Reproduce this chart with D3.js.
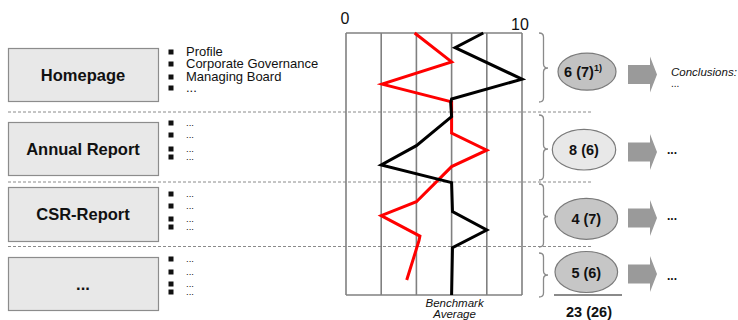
<!DOCTYPE html>
<html>
<head>
<meta charset="utf-8">
<script src="https://cdn.jsdelivr.net/npm/d3@7"></script>
<style>
  html, body { margin: 0; padding: 0; background: #fff; }
  svg { display: block; font-family: "Liberation Sans", Arial, sans-serif; }
</style>
</head>
<body>
<svg id="chart" width="738" height="320"></svg>
<script>
// ---- data ----
const categories = ["Homepage", "Annual Report", "CSR-Report", "..."];
const subItems = [
  ["Profile", "Corporate Governance", "Managing Board", "..."],
  ["...", "...", "...", "..."],
  ["...", "...", "...", "..."],
  ["...", "...", "...", "..."]
];
const scoreLabels = ["6 (7)", "8 (6)", "4 (7)", "5 (6)"];
const scoreNotes = ["1)", "", "", ""];
const conclusions = [["Conclusions:", "..."], ["..."], ["..."], ["..."]];
const totalLabel = "23 (26)";
const xTickLabels = [0, 10];
const benchmarkLabel = ["Benchmark", "Average"];

// position down the criteria list (0 = top, 100 = bottom) and score 0..10
const benchmarkPos   = [0, 5.6, 17.6, 25.2, 26.7, 31.9, 43.0, 50.4, 57.1, 68.2, 75.2, 81.9, 100];
const benchmarkScore = [7.8, 6.2, 10, 6, 5.95, 6, 4, 2, 6, 6.05, 8, 6.05, 6];
const companyPos     = [0, 11, 19.5, 26.3, 38.2, 44.7, 51, 64.4, 69.7, 77.5, 79.2, 94.3];
const companyScore   = [3.9, 6, 2.05, 6, 6, 8, 6, 4, 2, 4.2, 4.15, 3.45];

// ---- layout ----
const svg = d3.select("#chart");
const font = '"Liberation Sans", Arial, sans-serif';
const x = d3.scaleLinear().domain([0, 10]).range([346, 522]);
const y = d3.scaleLinear().domain([0, 100]).range([33, 295]);

const rows = [
  { boxY: 48,  boxH: 53, bullets: [52, 64, 77, 88],     brace: [33, 102, 68],   oval: [587, 71.7, 29, 18.5],   arrow: 74.5 },
  { boxY: 122, boxH: 53, bullets: [123, 135, 149, 157], brace: [115, 180, 149], oval: [584, 149.7, 31.7, 20.3], arrow: 152 },
  { boxY: 187, boxH: 54, bullets: [194, 206, 219, 227], brace: [184, 247, 216.5], oval: [586.3, 218.8, 31.3, 20.5], arrow: 218 },
  { boxY: 257, boxH: 53, bullets: [259, 272, 284, 292], brace: [253, 297, 275], oval: [586.3, 272, 31.3, 20.5], arrow: 274 }
];
const ovalFills = ["#c2c2c2", "#e8e8e8", "#c6c6c6", "#c6c6c6"];
const separators = [112, 182, 246.5];

// dashed separators between sections
svg.append("g").selectAll("line").data(separators).join("line")
  .attr("x1", 8).attr("x2", 593).attr("y1", d => d).attr("y2", d => d)
  .attr("stroke", "#8a8a8a").attr("stroke-width", 1).attr("stroke-dasharray", "3,2");

// category boxes
const boxes = svg.append("g");
categories.forEach((c, i) => {
  const r = rows[i];
  boxes.append("rect").attr("x", 8.5).attr("y", r.boxY + 0.5).attr("width", 150).attr("height", r.boxH)
    .attr("fill", "#e8e8e8").attr("stroke", "#8c8c8c").attr("stroke-width", 1.2);
  boxes.append("text").attr("x", 83).attr("y", r.boxY + r.boxH / 2 + 6)
    .attr("text-anchor", "middle").attr("font-family", font)
    .attr("font-weight", "bold").attr("font-size", 16.5).attr("fill", "#111").text(c);
});

// bullet lists
const lists = svg.append("g");
subItems.forEach((items, i) => {
  items.forEach((t, j) => {
    const by = rows[i].bullets[j];
    lists.append("rect").attr("x", 168.5).attr("y", by - 2.5).attr("width", 5).attr("height", 5).attr("fill", "#111");
    lists.append("text").attr("x", 186).attr("y", by + (i === 0 ? 4 : 2.5))
      .attr("font-family", font).attr("font-size", i === 0 ? 13 : 9.5).attr("fill", "#111").text(t);
  });
});

// score chart: vertical grid + frame
const grid = svg.append("g");
grid.selectAll("line").data(x.ticks(5)).join("line")
  .attr("x1", d => x(d)).attr("x2", d => x(d)).attr("y1", y(0)).attr("y2", y(100))
  .attr("stroke", "#808080").attr("stroke-width", 1.6);
[0, 100].forEach(p => grid.append("line")
  .attr("x1", x(0)).attr("x2", x(10)).attr("y1", y(p)).attr("y2", y(p))
  .attr("stroke", "#808080").attr("stroke-width", 1.6));

svg.append("g").selectAll("text").data(xTickLabels).join("text")
  .attr("x", d => x(d) - (d === 0 ? 1 : 2)).attr("y", d => d === 0 ? 23.5 : 30)
  .attr("text-anchor", "middle").attr("font-family", font).attr("font-size", 16).attr("fill", "#111")
  .text(d => d);

const line = d3.line().x(d => x(d[1])).y(d => y(d[0]));
svg.append("path").datum(d3.zip(companyPos, companyScore)).attr("d", line)
  .attr("fill", "none").attr("stroke", "#ff0000").attr("stroke-width", 3).attr("stroke-linejoin", "miter");
svg.append("path").datum(d3.zip(benchmarkPos, benchmarkScore)).attr("d", line)
  .attr("fill", "none").attr("stroke", "#000").attr("stroke-width", 3).attr("stroke-linejoin", "miter");

svg.append("text").attr("x", x(6) + 3).attr("text-anchor", "middle")
  .attr("font-family", font).attr("font-style", "italic").attr("font-size", 11.5).attr("fill", "#111")
  .selectAll("tspan").data(benchmarkLabel).join("tspan")
  .attr("x", x(6) + 3).attr("y", (d, i) => 306.5 + i * 11).text(d => d);

// braces
function brace(x0, y0, y1, ym, w) {
  const xm = x0 + w / 2;
  return `M${x0},${y0} Q${xm},${y0} ${xm},${y0 + 4} L${xm},${ym - 4} Q${xm},${ym} ${x0 + w},${ym} ` +
         `Q${xm},${ym} ${xm},${ym + 4} L${xm},${y1 - 4} Q${xm},${y1} ${x0},${y1}`;
}
svg.append("g").selectAll("path").data(rows).join("path")
  .attr("d", r => brace(539, r.brace[0], r.brace[1], r.brace[2], 9))
  .attr("fill", "none").attr("stroke", "#8a8a8a").attr("stroke-width", 1.3);

// score ovals
const ovals = svg.append("g");
rows.forEach((r, i) => {
  const [cx, cy, rx, ry] = r.oval;
  ovals.append("ellipse").attr("cx", cx).attr("cy", cy).attr("rx", rx).attr("ry", ry)
    .attr("fill", ovalFills[i]).attr("stroke", "#7a7a7a").attr("stroke-width", 1.2);
  const t = ovals.append("text").attr("x", cx + (scoreNotes[i] ? -4 : 0)).attr("y", cy + 5.5)
    .attr("text-anchor", "middle").attr("font-family", font).attr("font-weight", "bold")
    .attr("font-size", 14.5).attr("fill", "#111");
  t.append("tspan").text(scoreLabels[i]);
  if (scoreNotes[i]) t.append("tspan").attr("font-size", 9).attr("dy", -6).text(scoreNotes[i]);
});

// total under the last oval
svg.append("line").attr("x1", 554).attr("x2", 622).attr("y1", 295).attr("y2", 295)
  .attr("stroke", "#8a8a8a").attr("stroke-width", 1.8);
svg.append("text").attr("x", 589).attr("y", 316.5).attr("text-anchor", "middle")
  .attr("font-family", font).attr("font-weight", "bold").attr("font-size", 14.5).attr("fill", "#111")
  .text(totalLabel);

// block arrows and conclusions
const arrows = svg.append("g");
rows.forEach((r, i) => {
  const cy = r.arrow;
  arrows.append("path")
    .attr("d", `M628,${cy - 9.5} L650,${cy - 9.5} L650,${cy - 18} L657,${cy} L650,${cy + 18} L650,${cy + 9.5} L628,${cy + 9.5} Z`)
    .attr("fill", "#9a9a9a");
  const lines = conclusions[i];
  if (lines.length > 1) {
    lines.forEach((t, j) => arrows.append("text").attr("x", 671).attr("y", cy + 1 + j * 11)
      .attr("font-family", font).attr("font-style", j === 0 ? "italic" : "normal")
      .attr("font-size", j === 0 ? 11.5 : 10).attr("fill", "#111").text(t));
  } else {
    arrows.append("text").attr("x", 667).attr("y", cy + (i === 3 ? 6 : 1.5))
      .attr("font-family", font).attr("font-weight", "bold").attr("font-size", 12).attr("fill", "#111").text(lines[0]);
  }
});
</script>
</body>
</html>
